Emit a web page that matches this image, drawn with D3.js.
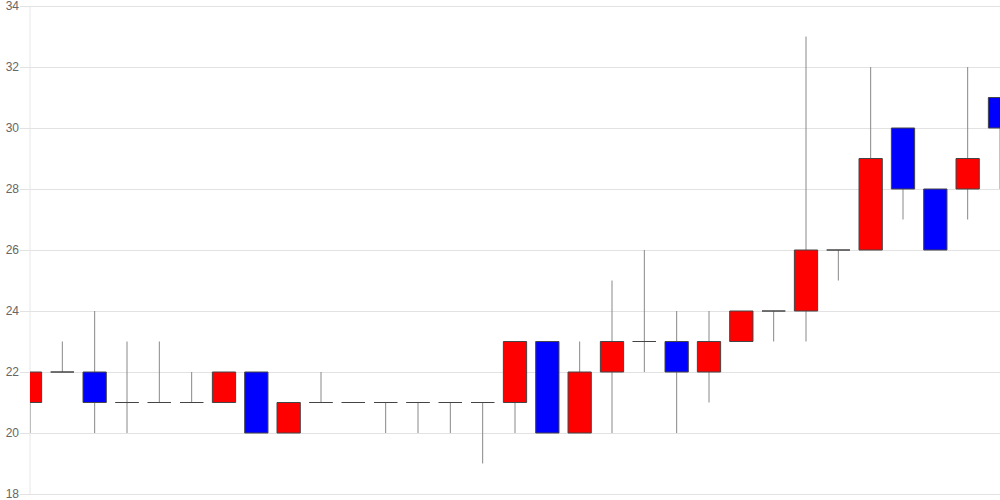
<!DOCTYPE html>
<html>
<head>
<meta charset="utf-8">
<script src="https://cdn.jsdelivr.net/npm/d3@7"></script>
<style>
    body { margin: 0; background: #fff; }
    svg { display: block; font-family: "Liberation Sans", Arial, sans-serif; }
    .grid line { stroke: #e2e2e2; }
    .grid path { display: none; }
    .grid text { fill: #666; font-size: 12px; }
</style>
</head>
<body>
<div id="chart"></div>
<script>
const opens  = [21, 22, 22, 21, 21, 21, 21, 22, 20, 21, 21, 21, 21, 21, 21, 21, 23, 20, 22, 23, 23, 22, 23, 24, 24, 26, 26, 30, 28, 28, 31];
const closes = [22, 22, 21, 21, 21, 21, 22, 20, 21, 21, 21, 21, 21, 21, 21, 23, 20, 22, 23, 23, 22, 23, 24, 24, 26, 26, 29, 28, 26, 29, 30];
const highs  = [22, 23, 24, 23, 23, 22, 22, 22, 21, 22, 21, 21, 21, 21, 21, 23, 23, 23, 25, 26, 24, 24, 24, 24, 33, 26, 32, 30, 28, 32, 31];
const lows   = [20, 22, 20, 20, 21, 21, 21, 20, 20, 21, 21, 20, 20, 20, 19, 20, 20, 20, 20, 22, 20, 21, 23, 23, 23, 25, 26, 27, 26, 27, 28];
const yTicks = [18, 20, 22, 24, 26, 28, 30, 32, 34];

const data = opens.map((o, i) => ({ i: i, open: o, close: closes[i], high: highs[i], low: lows[i] }));

const svg = d3.select("#chart").append("svg")
    .attr("width", "1000")
    .attr("height", "500");

const margin = {top: 6, right: 0, bottom: 6, left: 30};
const width = +svg.attr("width") - margin.left - margin.right;
const height = +svg.attr("height") - margin.top - margin.bottom;
const g = svg.append("g").attr("transform", "translate(" + margin.left + "," + margin.top + ")");

const x = d3.scalePoint().domain(data.map(d => d.i)).range([0, width]);
const y = d3.scaleLinear().domain([18, 34]).range([height, 0]);
const bodyW = x.step() * 0.72;

g.append("defs").append("clipPath")
    .attr("id", "plot-clip")
    .append("rect")
        .attr("x", 0)
        .attr("y", -margin.top)
        .attr("width", width)
        .attr("height", height + margin.top + margin.bottom);

g.append("g")
    .attr("class", "grid")
    .call(d3.axisLeft(y)
        .tickValues(yTicks)
        .tickSize(-width)
        .tickPadding(11))
    .call(a => a.selectAll(".tick line").attr("x1", -10))
    .call(a => a.selectAll(".tick text").attr("dy", "0.3em"));

g.append("line")
    .attr("x1", 0)
    .attr("x2", 0)
    .attr("y1", 0)
    .attr("y2", height)
    .attr("stroke", "#e6e6e6");

const plot = g.append("g").attr("clip-path", "url(#plot-clip)");

// wicks first, bodies on top
plot.selectAll("line.wick")
    .data(data)
    .enter()
    .append("line")
        .attr("class", "wick")
        .attr("x1", d => x(d.i))
        .attr("x2", d => x(d.i))
        .attr("y1", d => y(d.high))
        .attr("y2", d => y(d.low))
        .attr("stroke", "#888")
        .attr("stroke-width", 1);

// bodies as paths so a doji (open == close) still shows as a flat line
const bodyPath = d => {
    const top = y(Math.max(d.open, d.close));
    const h = Math.abs(y(d.open) - y(d.close));
    const left = x(d.i) - bodyW / 2;
    return "M" + left + "," + top + "h" + bodyW + "v" + h + "h" + (-bodyW) + "Z";
};

plot.selectAll("path.body")
    .data(data)
    .enter()
    .append("path")
        .attr("class", "body")
        .attr("d", bodyPath)
        .attr("fill", d => d.close > d.open ? "#ff0000" : "#0000ff")
        .attr("stroke", "#444")
        .attr("stroke-width", 1);
</script>
</body>
</html>
